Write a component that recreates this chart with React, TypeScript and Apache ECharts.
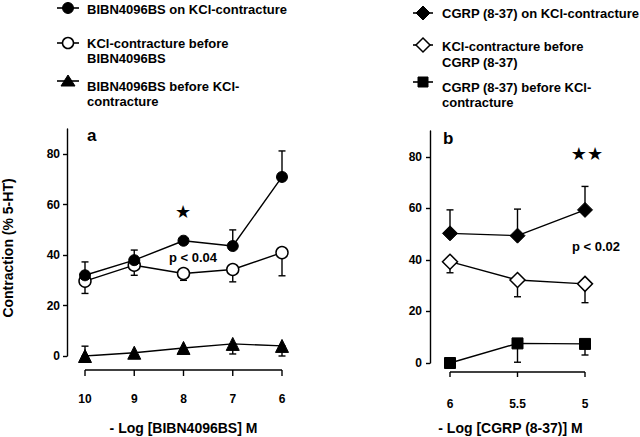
import React, { useEffect, useRef } from "react";
import * as echarts from "echarts";

// Panel a: -log [BIBN4096BS] M
const xA = [10, 9, 8, 7, 6];
const bibnOnKcl = [32, 38, 45.7, 43.6, 71];
const bibnOnKclErrUp = [5.3, 4, 0, 6.4, 10.3];
const kclBeforeBibn = [29.7, 36, 32.7, 34.3, 41];
const kclBeforeBibnErrDown = [4.9, 4, 2.7, 4.9, 9.2];
const bibnBeforeKcl = [0, 1.3, 3.2, 4.8, 4];
const bibnBeforeKclErrUp = [3.9, 0, 0, 0, 0];
const bibnBeforeKclErrDown = [0, 0, 2.4, 4, 4];

// Panel b: -log [CGRP (8-37)] M
const xB = [6, 5.5, 5];
const cgrpOnKcl = [50.3, 49.4, 59.4];
const cgrpOnKclErrUp = [9.1, 10.3, 9.1];
const kclBeforeCgrp = [39.3, 32.2, 30.7];
const kclBeforeCgrpErrDown = [4.3, 6.5, 7.3];
const cgrpBeforeKcl = [0, 7.6, 7.4];
const cgrpBeforeKclErrDown = [0, 7.3, 4.3];

const yTicks = [0, 20, 40, 60, 80];

const FONT = '"Liberation Sans", Arial, sans-serif';
const BLACK = "#000";

function zeros(n: number) {
  return new Array(n).fill(0);
}

function errData(xs: number[], ys: number[], up: number[], down: number[]) {
  const out: number[][] = [];
  xs.forEach((x, i) => {
    if (up[i] > 0 || down[i] > 0) out.push([x, ys[i] - down[i], ys[i] + up[i]]);
  });
  return out;
}

function errSeries(data: number[][], idx: number) {
  return {
    type: "custom",
    xAxisIndex: idx,
    yAxisIndex: idx,
    z: 1,
    data,
    renderItem: (params: any, api: any) => {
      const x = api.value(0);
      const lo = api.value(1);
      const hi = api.value(2);
      const p1 = api.coord([x, lo]);
      const p2 = api.coord([x, hi]);
      const st = { stroke: BLACK, lineWidth: 1.4 };
      return {
        type: "group",
        children: [
          { type: "line", shape: { x1: p1[0], y1: p1[1], x2: p2[0], y2: p2[1] }, style: st },
          { type: "line", shape: { x1: p1[0] - 3.5, y1: p1[1], x2: p1[0] + 3.5, y2: p1[1] }, style: st },
          { type: "line", shape: { x1: p2[0] - 3.5, y1: p2[1], x2: p2[0] + 3.5, y2: p2[1] }, style: st },
        ],
      };
    },
  };
}

// Detached x axis (line + ticks) drawn through the cartesian scale, a few px below y = 0
function detachedAxisSeries(xs: number[], idx: number, gap: number, tickLen: number) {
  return {
    type: "custom",
    xAxisIndex: idx,
    yAxisIndex: idx,
    clip: false,
    silent: true,
    z: 5,
    data: xs.map((x) => [x, 0]),
    renderItem: (params: any, api: any) => {
      const p = api.coord([api.value(0), 0]);
      const y = p[1] + gap;
      const st = { stroke: BLACK, lineWidth: 1.4 };
      const children: any[] = [
        { type: "line", shape: { x1: p[0], y1: y, x2: p[0], y2: y + tickLen }, style: st },
      ];
      if (params.dataIndex === 0) {
        const a = api.coord([xs[0], 0]);
        const b = api.coord([xs[xs.length - 1], 0]);
        children.push({ type: "line", shape: { x1: a[0], y1: y, x2: b[0], y2: y }, style: st });
      }
      return { type: "group", children };
    },
  };
}

function lineSeries(name: string, xs: number[], ys: number[], idx: number, symbol: string, size: number, filled: boolean, z: number) {
  return {
    name,
    type: "line",
    xAxisIndex: idx,
    yAxisIndex: idx,
    z,
    data: xs.map((x, i) => [x, ys[i]]),
    symbol,
    symbolSize: size,
    showAllSymbol: true,
    lineStyle: { color: BLACK, width: 1.4 },
    itemStyle: filled
      ? { color: BLACK, borderColor: BLACK, borderWidth: 1 }
      : { color: "#fff", borderColor: BLACK, borderWidth: 1.5 },
    emphasis: { disabled: true },
  };
}

const labelStyle = { color: BLACK, fontWeight: "bold", fontSize: 12, fontFamily: FONT };
const nameStyle = { color: BLACK, fontWeight: "bold", fontSize: 14, fontFamily: FONT };

function txt(text: string, x: number, y: number, size = 13, extra: any = {}) {
  return {
    type: "text",
    x,
    y,
    style: {
      text,
      fill: BLACK,
      fontSize: size,
      fontWeight: "bold",
      fontFamily: FONT,
      verticalAlign: "middle",
      align: "left",
      ...extra,
    },
  };
}

function seg(x1: number, y1: number, x2: number, y2: number, w = 1.6) {
  return { type: "line", shape: { x1, y1, x2, y2 }, style: { stroke: BLACK, lineWidth: w } };
}

const filledStyle = { fill: BLACK, stroke: BLACK, lineWidth: 1 };
const openStyle = { fill: "#fff", stroke: BLACK, lineWidth: 1.5 };

function diamond(cx: number, cy: number, r: number, style: any) {
  return {
    type: "polygon",
    shape: { points: [[cx, cy - r], [cx + r, cy], [cx, cy + r], [cx - r, cy]] },
    style,
  };
}

export default function App() {
  const ref = useRef<HTMLDivElement>(null);

  useEffect(() => {
    if (!ref.current) return;
    const chart = echarts.init(ref.current, null, { renderer: "svg" });

    const graphics: any[] = [
      // Left legend
      seg(57, 8, 79, 8),
      { type: "circle", shape: { cx: 68, cy: 8, r: 5.5 }, style: filledStyle },
      txt("BIBN4096BS on KCl-contracture", 87, 9),
      seg(57, 43, 79, 43),
      { type: "circle", shape: { cx: 68, cy: 43, r: 5.5 }, style: openStyle },
      txt("KCl-contracture before", 87, 43),
      txt("BIBN4096BS", 87, 58),
      seg(57, 81, 79, 81),
      { type: "polygon", shape: { points: [[68, 75], [75, 86], [61, 86]] }, style: filledStyle },
      txt("BIBN4096BS before KCl-", 87, 86),
      txt("contracture", 87, 101),
      // Right legend
      seg(413, 13, 433, 13),
      diamond(423, 13, 7, filledStyle),
      txt("CGRP (8-37) on KCl-contracture", 442, 13),
      seg(413, 45, 433, 45),
      diamond(423, 45, 7, openStyle),
      txt("KCl-contracture before", 442, 46),
      txt("CGRP (8-37)", 442, 62),
      seg(413, 82, 433, 82),
      { type: "rect", shape: { x: 418, y: 77, width: 10, height: 10 }, style: filledStyle },
      txt("CGRP (8-37) before KCl-", 442, 87),
      txt("contracture", 442, 102),
      // Y axis title
      {
        type: "text",
        x: 8,
        y: 248,
        rotation: Math.PI / 2,
        style: {
          text: "Contraction (% 5-HT)",
          fill: BLACK,
          fontSize: 14,
          fontWeight: "bold",
          fontFamily: FONT,
          align: "center",
          verticalAlign: "middle",
        },
      },
      // Panel labels and annotations
      txt("a", 87, 135, 17),
      txt("b", 443, 138, 17),
      txt("★", 183, 211, 18, { align: "center", fontFamily: '"DejaVu Sans", sans-serif', fontWeight: "normal" }),
      txt("p < 0.04", 193, 257, 13, { align: "center" }),
      txt("★★", 587, 153, 18, { align: "center", fontFamily: '"DejaVu Sans", sans-serif', fontWeight: "normal" }),
      txt("p < 0.02", 596, 246, 13, { align: "center" }),
    ];

    const option: any = {
      animation: false,
      backgroundColor: "#fff",
      grid: [
        { left: 85, width: 197, top: 129, bottom: 81, outerBoundsMode: "none" },
        { left: 450, right: 55, top: 131, bottom: 74, outerBoundsMode: "none" },
      ],
      xAxis: [
        {
          gridIndex: 0,
          type: "value",
          min: 6,
          max: 10,
          interval: 1,
          inverse: true,
          offset: 14,
          axisLine: { show: false },
          axisTick: { show: false },
          splitLine: { show: false },
          axisLabel: { ...labelStyle, margin: 23 },
          name: "- Log [BIBN4096BS] M",
          nameLocation: "middle",
          nameGap: 51,
          nameTextStyle: nameStyle,
        },
        {
          gridIndex: 1,
          type: "value",
          min: 5,
          max: 6,
          interval: 0.5,
          inverse: true,
          offset: 9,
          axisLine: { show: false },
          axisTick: { show: false },
          splitLine: { show: false },
          axisLabel: { ...labelStyle, margin: 26 },
          name: "- Log [CGRP (8-37)] M",
          nameLocation: "middle",
          nameGap: 49,
          nameTextStyle: { ...nameStyle, padding: [0, 14, 0, 0] },
        },
      ],
      yAxis: [
        {
          gridIndex: 0,
          type: "value",
          min: 0,
          max: 90,
          offset: 18,
          axisLine: { show: true, onZero: false, lineStyle: { color: BLACK, width: 1.4 } },
          axisTick: { show: true, length: 4, customValues: yTicks, lineStyle: { color: BLACK, width: 1.4 } },
          splitLine: { show: false },
          axisLabel: { ...labelStyle, margin: 7, customValues: yTicks },
        },
        {
          gridIndex: 1,
          type: "value",
          min: 0,
          max: 90,
          offset: 20,
          axisLine: { show: true, onZero: false, lineStyle: { color: BLACK, width: 1.4 } },
          axisTick: { show: true, length: 4, customValues: yTicks, lineStyle: { color: BLACK, width: 1.4 } },
          splitLine: { show: false },
          axisLabel: { ...labelStyle, margin: 8, customValues: yTicks },
        },
      ],
      series: [
        detachedAxisSeries(xA, 0, 14, 6),
        detachedAxisSeries(xB, 1, 9, 5),
        errSeries(errData(xA, bibnOnKcl, bibnOnKclErrUp, zeros(xA.length)), 0),
        errSeries(errData(xA, kclBeforeBibn, zeros(xA.length), kclBeforeBibnErrDown), 0),
        errSeries(errData(xA, bibnBeforeKcl, bibnBeforeKclErrUp, bibnBeforeKclErrDown), 0),
        errSeries(errData(xB, cgrpOnKcl, cgrpOnKclErrUp, zeros(xB.length)), 1),
        errSeries(errData(xB, kclBeforeCgrp, zeros(xB.length), kclBeforeCgrpErrDown), 1),
        errSeries(errData(xB, cgrpBeforeKcl, zeros(xB.length), cgrpBeforeKclErrDown), 1),
        lineSeries("KCl-contracture before BIBN4096BS", xA, kclBeforeBibn, 0, "circle", 12, false, 3),
        lineSeries("BIBN4096BS on KCl-contracture", xA, bibnOnKcl, 0, "circle", 11, true, 4),
        lineSeries("BIBN4096BS before KCl-contracture", xA, bibnBeforeKcl, 0, "triangle", 13, true, 3),
        lineSeries("KCl-contracture before CGRP (8-37)", xB, kclBeforeCgrp, 1, "diamond", 15, false, 3),
        lineSeries("CGRP (8-37) on KCl-contracture", xB, cgrpOnKcl, 1, "diamond", 15, true, 4),
        lineSeries("CGRP (8-37) before KCl-contracture", xB, cgrpBeforeKcl, 1, "rect", 11, true, 3),
      ],
      graphic: graphics,
    };

    chart.setOption(option);
    return () => chart.dispose();
  }, []);

  return (
    <div
      ref={ref}
      style={{ position: "fixed", left: 0, top: 0, width: 640, height: 437, background: "#fff" }}
    />
  );
}
